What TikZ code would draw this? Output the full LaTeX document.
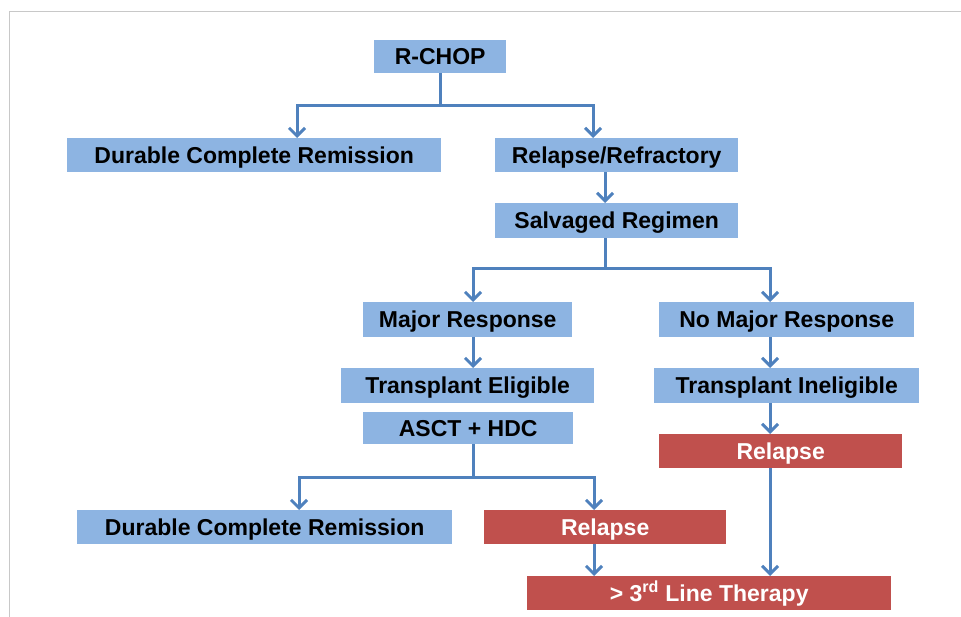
\documentclass[tikz,border=0pt]{standalone}
\usepackage{fontspec}
\setmainfont{Liberation Sans}
\usetikzlibrary{arrows.meta}
\definecolor{boxblue}{RGB}{141,180,226}
\definecolor{linkblue}{RGB}{79,129,189}
\definecolor{boxred}{RGB}{192,80,77}
\definecolor{framegray}{RGB}{200,200,200}
\begin{document}
\begin{tikzpicture}[x=1pt,y=-1pt,
  bluebox/.style={fill=boxblue, draw=none, inner sep=0pt, anchor=north west,
    text height=16pt, text depth=0pt,
    font=\fontsize{23}{24}\selectfont\bfseries, text=black},
  redbox/.style={bluebox, fill=boxred, text=white},
  link/.style={draw=linkblue, line width=3pt, -{Straight Barb[length=8pt,width=16pt]}},
  plainlink/.style={draw=linkblue, line width=3pt}]
\useasboundingbox (0,0) rectangle (961,617);
\draw[framegray, line width=1pt] (9,617) -- (9,12) -- (961,12);

% nodes
\node[bluebox, minimum width=132pt, minimum height=33pt] (rchop) at (374,40) {R-CHOP};
\node[bluebox, minimum width=374pt, minimum height=34pt] (dcr1) at (67,138) {Durable Complete Remission};
\node[bluebox, minimum width=243pt, minimum height=34pt] (rr) at (495,138) {Relapse/Refractory};
\node[bluebox, minimum width=243pt, minimum height=35pt] (salv) at (495,203) {Salvaged Regimen};
\node[bluebox, minimum width=209pt, minimum height=35pt] (majr) at (363,302) {Major Response};
\node[bluebox, minimum width=255pt, minimum height=35pt] (nomaj) at (659,302) {No Major Response};
\node[bluebox, minimum width=253pt, minimum height=35pt] (te) at (341,368) {Transplant Eligible};
\node[bluebox, minimum width=265pt, minimum height=35pt] (ti) at (654,368) {Transplant Ineligible};
\node[bluebox, minimum width=210pt, minimum height=32pt] (asct) at (363,412) {ASCT + HDC};
\node[redbox, minimum width=243pt, minimum height=34pt] (rel2) at (659,434) {Relapse};
\node[bluebox, minimum width=375pt, minimum height=34pt] (dcr2) at (77,510) {Durable Complete Remission};
\node[redbox, minimum width=242pt, minimum height=34pt] (rel1) at (484,510) {Relapse};
\node[redbox, minimum width=364pt, minimum height=34pt] (third) at (527,576) {> 3\textsuperscript{rd} Line Therapy};

% junction coordinates
\coordinate (j1) at (297,106);
\coordinate (j2) at (593,106);
\coordinate (c3) at (605,0);
\coordinate (j4) at (473,269);
\coordinate (j5) at (770,269);
\coordinate (j6) at (299,477);
\coordinate (j7) at (594,477);

% connectors
\draw[link] (rchop.south) |- (j1) -- (j1 |- dcr1.north);
\draw[link] (rchop.south) |- (j2) -- (j2 |- rr.north);
\draw[link] (c3 |- rr.south) -- (c3 |- salv.north);
\draw[link] (c3 |- salv.south) |- (j4) -- (j4 |- majr.north);
\draw[link] (c3 |- salv.south) |- (j5) -- (j5 |- nomaj.north);
\draw[link] (j4 |- majr.south) -- (j4 |- te.north);
\draw[link] (j5 |- nomaj.south) -- (j5 |- ti.north);
\draw[link] (j5 |- ti.south) -- (j5 |- rel2.north);
\draw[link] (j5 |- rel2.south) -- (j5 |- third.north);
\draw[link] (j4 |- asct.south) |- (j6) -- (j6 |- dcr2.north);
\draw[link] (j4 |- asct.south) |- (j7) -- (j7 |- rel1.north);
\draw[link] (j7 |- rel1.south) -- (j7 |- third.north);
\end{tikzpicture}
\end{document}
